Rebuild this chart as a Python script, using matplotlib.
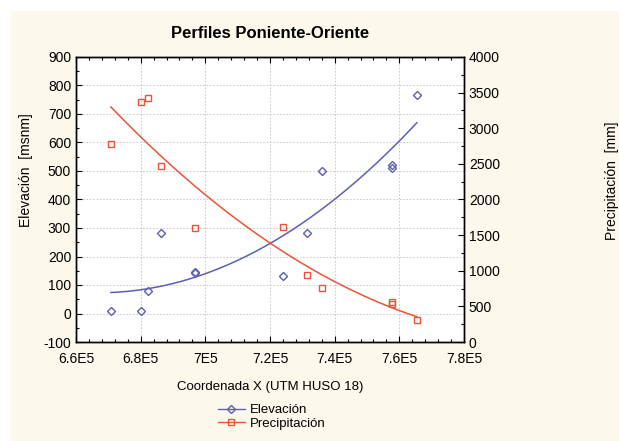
import numpy as np
from matplotlib import pyplot as plt
from matplotlib.ticker import AutoMinorLocator

plt.rcParams['font.family'] = ['Liberation Sans', 'DejaVu Sans']
plt.rcParams['axes.unicode_minus'] = False

# Coordenada X (UTM) of each station
elev_x = [670800, 680000, 682300, 686300, 696800, 696900, 724000, 731400, 736000, 757600, 757800, 765400]
elev_y = [10, 10, 80, 283, 147, 143, 133, 283, 500, 520, 512, 768]

prec_x = [670800, 680000, 682300, 686300, 696800, 724000, 731400, 736000, 757600, 757800, 765400]
prec_y = [2772, 3372, 3428, 2468, 1600, 1608, 940, 752, 560, 540, 308]

x_ticks = [660000, 680000, 700000, 720000, 740000, 760000, 780000]
x_labels = ['6.6E5', '6.8E5', '7E5', '7.2E5', '7.4E5', '7.6E5', '7.8E5']

BG = '#fdf8ec'
BLUE = '#5b5fb5'
RED = '#e8553a'

fig = plt.figure(figsize=(6.19, 4.41), dpi=100, facecolor='white')
fig.patches.append(plt.Rectangle((11 / 619, 0), 1, 1 - 11 / 441, transform=fig.transFigure,
                                 facecolor=BG, edgecolor='none', zorder=-10))

ax = fig.add_axes([76 / 619, 1 - 342 / 441, 388 / 619, 285 / 441])
ax2 = ax.twinx()

# quadratic fits through the points
xs = np.linspace(min(elev_x), max(elev_x), 200)
pe = np.polyfit(np.array(elev_x) / 1e5, elev_y, 2)
pp = np.polyfit(np.array(prec_x) / 1e5, prec_y, 2)

ax.plot(xs, np.polyval(pe, xs / 1e5), color=BLUE, lw=1.1, zorder=3)
ax.plot(elev_x, elev_y, linestyle='none', marker='D', markersize=4, mfc='none', mec=BLUE, mew=1.0, zorder=4)
ax2.plot(xs, np.polyval(pp, xs / 1e5), color=RED, lw=1.1, zorder=3)
ax2.plot(prec_x, prec_y, linestyle='none', marker='s', markersize=5, mfc='none', mec=RED, mew=1.0, zorder=4)

ax.set_xlim(660000, 780000)
ax.set_ylim(-100, 900)
ax2.set_ylim(0, 4000)
ax.set_xticks(x_ticks)
ax.set_xticklabels(x_labels)
ax.set_yticks(range(-100, 901, 100))
ax2.set_yticks(range(0, 4001, 500))

ax.grid(True, color='#c4c4c4', linestyle=(0, (2, 2)), lw=0.6)
ax.xaxis.set_minor_locator(AutoMinorLocator(5))
ax.yaxis.set_minor_locator(AutoMinorLocator(2))
ax2.yaxis.set_minor_locator(AutoMinorLocator(2))
for a in (ax, ax2):
    a.tick_params(which='both', direction='in', labelsize=10, colors='black', width=0.8)
    a.tick_params(which='major', length=4)
    a.tick_params(which='minor', length=2)
    for s in a.spines.values():
        s.set_linewidth(1.0)
ax.tick_params(which='both', top=True)
ax.tick_params(axis='x', pad=7)

fig.text(0.5 * (76 + 464) / 619, 1 - 33 / 441, 'Perfiles Poniente-Oriente', ha='center', va='center',
         fontsize=12, fontweight='bold')
ax.set_xlabel('Coordenada X (UTM HUSO 18)', fontsize=9.5, labelpad=11)
fig.text(26 / 619, 1 - 170 / 441, 'Elevación  [msnm]', rotation=90, ha='center', va='center', fontsize=10)
fig.text(612 / 619, 1 - 181 / 441, 'Precipitación  [mm]', rotation=90, ha='center', va='center', fontsize=10)

h1 = plt.Line2D([], [], color=BLUE, marker='D', markersize=4, mfc='none', mec=BLUE, lw=1.0)
h2 = plt.Line2D([], [], color=RED, marker='s', markersize=4, mfc='none', mec=RED, lw=1.0)
fig.legend([h1, h2], ['Elevación', 'Precipitación'], loc='center', bbox_to_anchor=(272 / 619, 1 - 417 / 441),
           frameon=False, fontsize=9.5, handlelength=2, handletextpad=0.4, labelspacing=0.1)

fig.savefig('out.png', dpi=100, facecolor='white')
